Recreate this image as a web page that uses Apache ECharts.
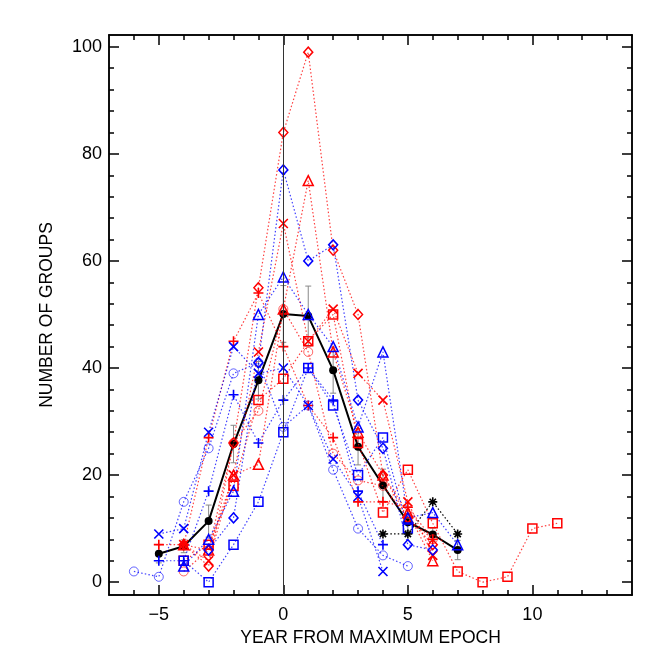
<!DOCTYPE html>
<html>
<head>
<meta charset="utf-8">
<script src="https://cdn.jsdelivr.net/npm/echarts@6/dist/echarts.min.js"></script>
<style>html,body{margin:0;padding:0;background:#fff}#c{width:665px;height:665px}</style>
</head>
<body>
<div id="c"></div>
<script>
// years from maximum epoch (index positions for every series below)
const years = [-6,-5,-4,-3,-2,-1,0,1,2,3,4,5,6,7,8,9,10,11];

const redDiamond   = [null,null,7,3,26,55,84,99,62,50,20,12,7,null,null,null,null,null];
const redTriangle  = [null,null,7,6,20,22,51,75,43,28,20,13,4,null,null,null,null,null];
const redCross     = [null,null,7,4,20,43,67,45,51,39,34,15,5,null,null,null,null,null];
const redPlus      = [null,7,7,27,45,54,44,33,27,15,15,14,8,null,null,null,null,null];
const redSquare    = [null,null,4,7,18,34,38,45,50,26,13,21,11,2,0,1,10,11];
const redCircle    = [null,null,2,6,26,32,51,43,24,19,18,12,8,null,null,null,null,null];
const blueDiamond  = [null,null,null,6,12,41,77,60,63,34,25,7,6,null,null,null,null,null];
const blueTriangle = [null,null,3,8,17,50,57,50,44,29,43,12,13,7,null,null,null,null];
const blueCross    = [null,9,10,28,44,39,40,33,23,16,2,null,null,null,null,null,null,null];
const bluePlus     = [null,4,4,17,35,26,34,40,34,17,7,null,null,null,null,null,null,null];
const blueSquare   = [null,null,4,0,7,15,28,40,33,20,27,10,null,null,null,null,null,null];
const blueCircle   = [2,1,15,25,39,41,29,33,21,10,5,3,null,null,null,null,null,null];
const blackStar    = [null,null,null,null,null,null,null,null,null,null,9,9,15,9,null,null,null,null];
const meanVal      = [null,5.3,6.7,11.4,25.8,37.7,50.1,49.7,39.6,25.3,18.1,11.2,8.9,6.0,null,null,null,null];
const meanErr      = [null,1.7,1.2,3.0,3.5,3.5,5.3,5.6,4.3,3.4,3.0,1.6,1.2,1.8,null,null,null,null];

const xMajor = [-5,0,5,10];
const xMinor = [-6,-5,-4,-3,-2,-1,0,1,2,3,4,5,6,7,8,9,10,11,12,13];
const yMajor = [0,20,40,60,80,100];
const yMinor = [0,4,8,12,16,20,24,28,32,36,40,44,48,52,56,60,64,68,72,76,80,84,88,92,96,100];

const FONT = 'Liberation Sans, Arial, Helvetica, sans-serif';
const RED = '#ff0000', BLUE = '#0000ff';

const SYM = {
  plus: 'path://M5,0L5,10M0,5L10,5',
  cross: 'path://M0,0L10,10M10,0L0,10',
  star: 'path://M5,0L5,10M0,5L10,5M1.5,1.5L8.5,8.5M8.5,1.5L1.5,8.5'
};

function pts(arr){
  const out = [];
  years.forEach((x,i)=>{ if(arr[i]!==null) out.push([x, arr[i]]); });
  return out;
}

function dotted(name, arr, color, symbol, size, bw, opacity){
  return {
    name, type:'line', data: pts(arr), xAxisIndex:0, yAxisIndex:0,
    symbol, symbolSize: size, showAllSymbol:true, z:3,
    lineStyle:{color, width:1.2, type:[1.5,2.2], opacity:0.75},
    itemStyle:{color:'none', borderColor: color, borderWidth: bw, opacity: opacity||1},
    emphasis:{disabled:true}, animation:false
  };
}

const series = [
  {
    name:'err', type:'custom', z:1, animation:false,
    data: years.map((x,i)=> meanVal[i]===null ? null : [x, meanVal[i], meanErr[i]]).filter(d=>d),
    renderItem: function(params, api){
      const x = api.value(0), y = api.value(1), e = api.value(2);
      const t = api.coord([x, y+e]), b = api.coord([x, y-e]);
      const st = {stroke:'#888', lineWidth:1};
      return {type:'group', children:[
        {type:'line', shape:{x1:t[0], y1:t[1], x2:b[0], y2:b[1]}, style:st},
        {type:'line', shape:{x1:t[0]-3, y1:t[1], x2:t[0]+3, y2:t[1]}, style:st},
        {type:'line', shape:{x1:b[0]-3, y1:b[1], x2:b[0]+3, y2:b[1]}, style:st}
      ]};
    }
  },
  {
    name:'mean', type:'line', data: pts(meanVal), symbol:'circle', symbolSize:8, z:2,
    lineStyle:{color:'#000', width:2},
    itemStyle:{color:'#000'}, animation:false,
    markLine:{silent:true, symbol:['none','none'], label:{show:false},
      lineStyle:{color:'#333', width:1, type:'solid'}, data:[{xAxis:0}]}
  },
  dotted('rd', redDiamond, RED, 'diamond', [9,10], 1.5),
  dotted('rt', redTriangle, RED, 'triangle', 10, 1.5),
  dotted('rx', redCross, RED, SYM.cross, 9, 1.6),
  dotted('rp', redPlus, RED, SYM.plus, 10, 1.6),
  dotted('rs', redSquare, RED, 'rect', 9, 1.5),
  dotted('rc', redCircle, RED, 'circle', 9, 1, 0.6),
  dotted('bd', blueDiamond, BLUE, 'diamond', [9,10], 1.5),
  dotted('bt', blueTriangle, BLUE, 'triangle', 10, 1.5),
  dotted('bx', blueCross, BLUE, SYM.cross, 9, 1.6),
  dotted('bp', bluePlus, BLUE, SYM.plus, 10, 1.6),
  dotted('bs', blueSquare, BLUE, 'rect', 9, 1.5),
  dotted('bc', blueCircle, BLUE, 'circle', 9, 1, 0.6),
  {
    name:'bk', type:'line', data: pts(blackStar), symbol: SYM.star, symbolSize: 9, z:3,
    lineStyle:{color:'#000', width:1.2, type:[1.5,2.2]},
    itemStyle:{color:'none', borderColor:'#000', borderWidth:1.6}, animation:false
  }
];

const axLine = {show:true, onZero:false, lineStyle:{color:'#000', width:1.5}};
function xAx(pos, vals, len, labels){
  return {
    type:'value', min:-7, max:14, position:pos, splitLine:{show:false},
    axisLine: axLine,
    axisTick:{show:true, inside:true, length:len, customValues: vals, lineStyle:{color:'#000', width:1.5}},
    axisLabel: labels ? {show:true, customValues:xMajor, margin:11, fontSize:18, color:'#000', fontFamily:FONT,
      formatter: v => String(v).replace('-', '\u2212')} : {show:false},
    name: labels ? 'YEAR FROM MAXIMUM EPOCH' : '',
    nameLocation:'middle', nameGap:33,
    nameTextStyle:{fontSize:17.5, color:'#000', fontFamily:FONT}
  };
}
function yAx(pos, vals, len, labels){
  return {
    type:'value', min:-2.4, max:102.2, position:pos, splitLine:{show:false},
    axisLine: axLine,
    axisTick:{show:true, inside:true, length:len, customValues: vals, lineStyle:{color:'#000', width:1.5}},
    axisLabel: labels ? {show:true, customValues:yMajor, margin:7, fontSize:18, color:'#000', fontFamily:FONT} : {show:false},
    name: labels ? 'NUMBER OF GROUPS' : '',
    nameLocation:'middle', nameGap:53, nameRotate:90,
    nameTextStyle:{fontSize:17.5, color:'#000', fontFamily:FONT}
  };
}

const chart = echarts.init(document.getElementById('c'), null, {renderer:'canvas'});
chart.setOption({
  animation:false,
  backgroundColor:'#fff',
  grid:{left:109, right:33, top:35, bottom:70, containLabel:false},
  xAxis:[xAx('bottom', xMajor, 10, true), xAx('bottom', xMinor, 5, false), xAx('top', xMajor, 10, false), xAx('top', xMinor, 5, false)],
  yAxis:[yAx('left', yMajor, 10, true), yAx('left', yMinor, 5, false), yAx('right', yMajor, 10, false), yAx('right', yMinor, 5, false)],
  series
});
</script>
</body>
</html>
